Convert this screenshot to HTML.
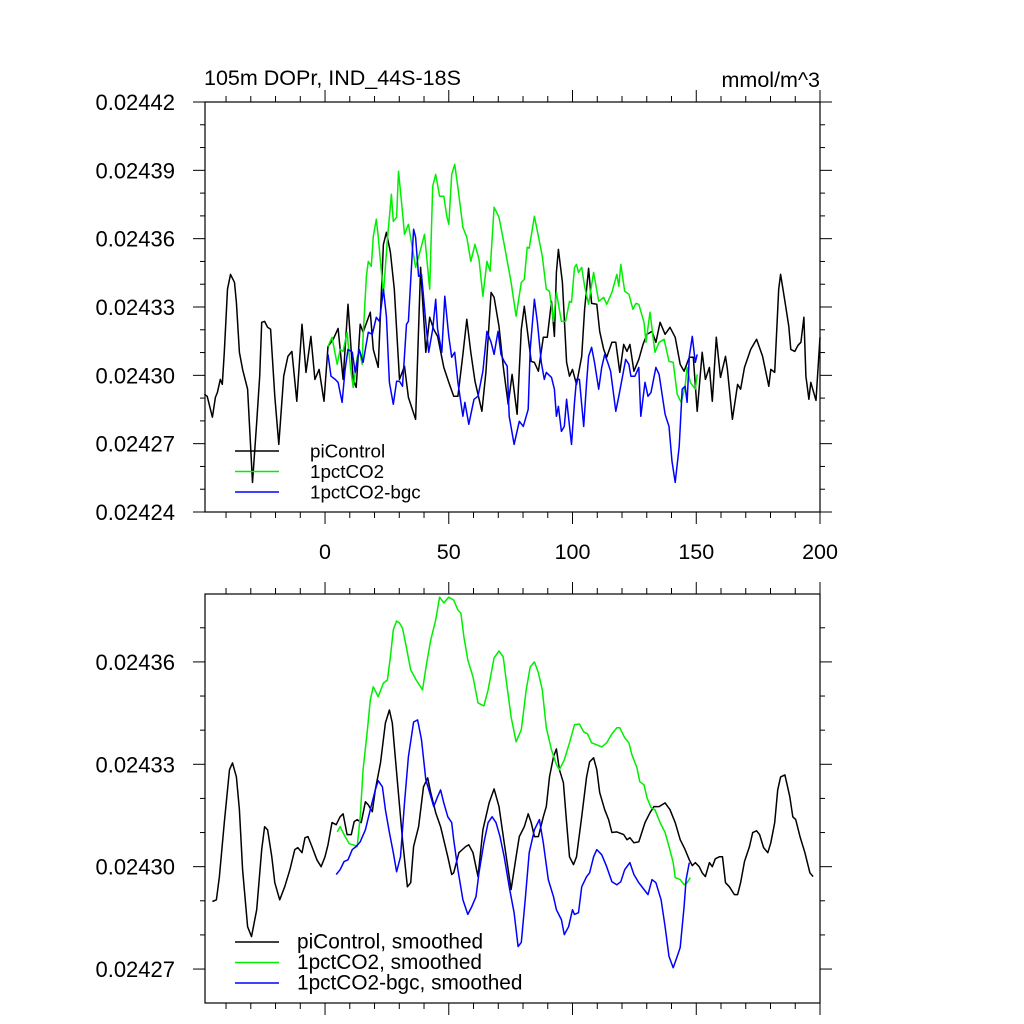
<!DOCTYPE html>
<html><head><meta charset="utf-8"><title>105m DOPr, IND_44S-18S</title>
<style>
html,body{margin:0;padding:0;background:#fff;}
svg{display:block;font-family:"Liberation Sans",Arial,sans-serif;}
</style></head>
<body>
<svg id="chart" width="1024" height="1024" viewBox="0 0 1024 1024">
<rect x="0" y="0" width="1024" height="1024" fill="#fff"/>
<text x="204" y="85" font-size="21.5">105m DOPr, IND_44S-18S</text>
<text x="820" y="87" font-size="21.5" text-anchor="end">mmol/m^3</text>
<g id="top"></g>
<g id="bot"></g>
</svg>
<script>
// ---- data (values = BASE + anomaly * UNIT, mmol/m^3) ----
const BASE = 0.0243, UNIT = 1e-5;
const piYears = [-48.8,-47.6,-45.5,-44.3,-43.5,-42.3,-41.5,-40.7,-39.4,-38.2,-36.6,-35.8,-34.6,-33.3,-31.3,-29.3,-27.6,-26.4,-25.6,-24.4,-23.2,-22.0,-20.3,-18.7,-16.7,-15.0,-13.4,-11.4,-9.3,-7.7,-5.7,-4.1,-2.4,-0.4,1.2,3.3,5.3,7.3,9.3,11.4,12.6,14.2,15.4,18.3,19.5,21.5,23.6,24.8,26.4,28.0,30.1,32.1,33.7,36.6,38.6,40.7,42.3,43.9,45.5,48.0,50.0,52.0,53.7,55.7,57.3,58.9,60.6,63.4,65.0,67.1,68.3,70.3,72.0,74.0,75.6,77.6,79.3,80.5,83.3,84.6,86.2,88.2,89.8,91.5,92.7,93.5,94.3,95.9,97.6,98.8,100.0,101.6,103.7,104.9,106.5,107.7,109.8,111.0,112.6,113.8,115.9,117.5,119.1,120.7,122.0,123.2,124.8,126.8,128.5,130.1,132.1,133.7,135.4,137.4,139.4,141.5,143.5,145.1,147.2,148.8,150.4,152.4,153.7,155.3,156.5,158.1,159.8,161.8,162.6,164.6,166.7,167.9,169.5,172.0,174.4,176.8,179.3,180.1,181.7,183.3,184.1,185.8,187.4,188.2,189.8,191.1,192.3,193.5,194.3,195.5,196.3,198.4,200.0];
const piAnom = [-0.83,-0.92,-1.84,-0.97,-0.75,-0.18,-0.40,1.01,3.78,4.43,4.08,3.20,1.01,0.26,-0.61,-4.70,-2.06,-0.04,2.33,2.37,2.11,2.02,-0.92,-3.03,-0.04,0.83,1.05,-1.14,2.24,0.13,1.71,-0.18,0.26,-1.14,1.27,1.58,2.06,-0.18,3.12,-0.18,-0.53,2.24,1.89,2.77,1.14,0.35,5.75,6.28,5.40,3.78,-0.18,0.40,-0.97,-1.93,4.74,1.01,2.55,2.02,1.71,0.35,-0.31,-0.92,-0.92,0.92,2.46,1.01,-0.26,-1.58,0.13,3.64,3.42,2.15,0.40,-1.27,0.04,-1.71,2.02,3.03,0.61,0.57,0.18,1.67,1.67,3.25,1.71,4.52,5.53,4.08,0.57,-0.04,0.26,-0.40,0.83,2.90,4.70,3.16,3.12,1.93,1.14,0.79,1.45,1.45,0.13,1.36,1.05,1.36,0.18,0.70,1.36,1.80,1.93,1.45,2.33,1.80,2.11,1.67,0.48,0.18,0.79,0.79,-1.58,1.01,-0.18,0.35,-1.14,1.67,-0.09,0.83,0.26,-1.93,-0.40,-0.61,0.35,1.14,1.58,0.83,-0.48,0.26,0.13,3.78,4.43,3.25,2.15,1.14,1.05,1.32,1.45,2.55,-0.04,-1.05,-0.31,-1.10,1.67];
const co2Years = [1.2,2.8,4.9,6.1,7.3,8.9,10.2,11.4,13.0,13.8,15.0,15.4,16.7,17.5,18.7,19.5,20.7,21.5,23.6,25.2,26.8,27.6,28.9,29.7,31.3,32.1,33.7,35.4,36.6,38.6,40.2,42.3,43.5,44.7,46.3,48.0,49.2,50.0,51.2,52.4,53.7,55.7,57.3,58.9,60.6,62.2,63.8,65.4,66.7,68.3,70.3,72.4,75.2,77.2,79.3,80.5,81.7,82.5,84.6,86.2,87.8,89.4,90.7,92.3,93.5,95.5,97.2,98.8,99.6,100.8,101.6,102.4,103.7,104.9,106.5,108.5,110.6,112.6,113.8,115.9,117.9,118.7,119.5,121.1,122.8,124.4,125.6,126.8,128.9,129.7,131.3,133.3,135.0,137.0,139.0,140.7,142.3,143.9,145.5,146.3,147.6,149.6,150.4];
const co2Anom = [1.27,1.67,0.48,1.14,1.05,1.89,0.40,-0.53,0.79,1.14,0.48,1.71,4.35,5.00,4.79,6.10,6.85,6.10,3.56,5.97,7.95,6.76,6.94,8.96,7.16,6.19,6.63,5.53,4.74,5.53,6.19,3.78,8.30,8.82,7.86,7.86,6.98,6.63,8.82,9.26,8.25,6.50,6.06,5.00,5.75,5.09,3.47,5.00,4.57,7.38,6.94,5.75,4.08,2.59,4.08,4.21,5.62,5.58,6.98,6.10,5.22,3.78,3.69,2.37,3.64,2.37,2.37,3.25,3.20,4.74,4.87,4.52,4.74,3.91,3.12,4.52,3.25,3.42,3.12,3.64,4.43,3.91,4.87,3.69,3.56,2.90,3.16,3.12,2.33,1.45,2.77,1.01,1.45,1.58,0.61,0.57,-0.83,-1.19,-0.48,0.35,-0.31,-0.61,0.04];
const bgcYears = [1.2,2.4,4.1,5.3,6.9,8.1,9.3,11.0,12.2,13.8,15.4,17.5,19.1,20.7,22.0,23.6,24.8,26.0,27.6,28.9,30.1,31.3,32.9,33.7,35.8,36.6,37.8,39.0,40.7,41.9,43.5,44.7,45.5,47.2,48.4,50.0,51.2,52.4,53.7,55.7,56.5,58.1,60.2,61.8,63.8,65.4,67.1,68.3,69.9,71.1,72.4,73.6,74.4,76.4,78.5,80.1,82.1,82.9,84.6,85.8,87.4,88.6,89.4,91.5,92.7,93.5,94.3,95.5,96.7,97.6,99.6,100.8,101.6,102.8,104.5,105.7,106.5,107.7,108.9,110.6,111.8,113.0,114.2,115.4,117.5,118.7,121.5,122.8,123.6,125.2,126.8,127.6,129.3,130.5,131.7,133.7,135.0,137.4,139.0,140.2,141.5,143.1,144.3,145.5,146.3,147.2,148.4,149.6,150.4];
const bgcAnom = [0.92,-0.04,-0.18,-0.31,-1.19,0.26,1.14,1.01,0.13,1.14,0.57,1.89,1.80,2.55,2.37,3.78,2.59,-0.31,-1.27,-0.26,-0.26,-0.48,2.24,2.37,6.41,6.06,4.35,4.43,2.33,1.01,2.02,3.34,2.02,1.01,3.47,1.71,0.79,1.01,-0.31,-1.80,-1.19,-2.15,-1.05,-0.92,0.18,1.93,1.45,0.92,1.93,0.92,0.61,0.40,-1.80,-3.03,-2.02,-2.24,-1.49,1.14,3.34,2.33,0.57,-0.18,0.13,-0.09,-0.61,-1.80,-1.36,-2.46,-2.24,-1.05,-3.03,-1.19,-0.18,-0.18,-2.24,-0.31,0.83,1.23,0.57,-0.61,0.35,0.92,0.57,0.18,-1.58,-0.92,0.70,0.48,-0.04,-0.04,0.35,-1.80,-0.31,-0.92,-0.75,0.35,0.04,-1.71,-2.24,-3.78,-4.70,-3.12,-0.61,-0.48,-1.19,0.83,1.71,0.57,0.92];
// smoothed series (bottom panel)
const piSmYears = [-45.5,-43.9,-42.7,-40.7,-38.6,-37.4,-35.8,-34.6,-33.3,-31.3,-29.7,-27.6,-25.6,-24.4,-23.2,-21.5,-20.3,-18.3,-16.3,-14.2,-12.2,-11.0,-9.3,-8.1,-6.9,-5.3,-3.3,-1.6,0,1.2,2.8,4.5,6.1,7.3,8.9,10.6,11.8,13.0,14.6,16.3,17.5,19.1,20.3,22.4,24.4,26.0,27.2,29.3,31.3,33.3,34.6,35.8,37.8,39.8,41.5,42.7,44.7,46.7,49.6,51.2,52.0,54.1,56.9,58.1,59.8,61.8,63.8,66.3,68.3,70.3,72.4,75.2,77.2,78.5,80.5,82.1,83.3,84.6,86.2,88.2,89.4,90.7,92.3,93.5,94.7,96.3,97.6,98.8,100.4,101.6,103.7,105.7,106.9,108.5,109.8,111.0,113.0,114.6,115.9,117.9,120.7,122.0,123.2,124.8,126.8,128.0,129.3,131.3,132.9,135.0,137.4,139.4,141.5,143.5,145.5,147.2,148.4,149.6,151.2,152.4,153.7,155.3,156.5,157.7,159.3,160.6,161.8,163.4,165.4,166.7,167.9,169.5,171.5,172.8,174.4,175.6,177.2,178.9,180.1,181.7,182.9,184.1,185.8,187.8,189.0,190.2,191.9,193.9,195.9,197.2];
const piSmAnom = [-1.02,-0.97,-0.29,1.29,2.84,3.04,2.63,1.67,-0.09,-1.76,-2.05,-1.26,0.50,1.17,1.08,0.29,-0.47,-0.97,-0.59,-0.09,0.50,0.56,0.41,0.85,0.88,0.59,0.20,0.00,0.29,0.64,1.29,1.23,1.46,1.55,0.94,0.94,1.32,1.38,1.29,1.90,1.81,1.61,2.25,3.04,4.21,4.59,4.21,2.46,0.79,-0.59,-0.47,0.59,1.17,2.34,2.60,2.17,1.58,1.17,0.29,-0.23,-0.18,0.41,0.59,0.64,0.41,-0.29,1.08,1.87,2.28,1.76,0.70,-0.67,0.29,0.88,1.17,1.55,1.29,0.88,0.88,1.46,1.76,2.63,3.22,3.45,2.84,2.46,1.29,0.29,0.06,0.29,1.46,2.63,3.07,3.19,2.84,2.17,1.67,1.38,1.00,1.02,0.94,0.79,0.85,0.70,0.73,1.00,1.29,1.58,1.76,1.76,1.87,1.67,1.29,0.79,0.50,0.20,0.03,0.12,0.00,-0.18,-0.29,0.12,0.00,0.23,0.29,0.29,-0.47,-0.59,-0.82,-0.82,-0.47,0.15,0.59,1.00,1.05,0.94,0.56,0.41,0.70,1.29,2.25,2.63,2.69,2.05,1.46,1.38,0.88,0.41,-0.18,-0.29];
const co2SmYears = [4.9,6.1,8.1,9.8,11.4,13.0,14.2,15.4,17.1,18.3,19.5,21.5,23.6,25.2,26.4,27.6,28.9,30.1,31.3,32.5,34.6,36.6,39.4,41.1,42.7,44.7,46.3,48.0,50.0,52.0,53.7,54.9,56.1,57.7,59.8,61.8,64.2,65.9,68.3,70.3,72.0,73.2,75.2,77.2,79.3,81.3,82.9,84.6,86.2,87.8,89.4,91.5,93.5,94.7,96.7,98.8,100.8,102.8,104.5,106.1,107.7,109.8,111.8,113.8,115.9,117.9,119.1,121.1,122.8,124.0,126.0,127.2,128.9,130.1,131.7,133.3,135.4,137.4,139.0,140.7,141.5,143.5,145.1,146.3,147.6];
const co2SmAnom = [1.02,1.17,0.88,0.67,0.64,0.59,1.46,2.84,4.01,4.89,5.27,4.98,5.38,5.47,6.15,6.94,7.20,7.14,6.99,6.56,5.77,5.50,5.18,5.97,6.64,7.23,7.90,7.73,7.90,7.81,7.52,7.43,6.73,6.06,5.56,4.80,4.71,5.18,6.12,6.32,6.15,5.47,4.39,3.66,4.01,5.18,5.85,6.00,5.68,5.18,4.07,3.42,2.99,2.84,3.13,3.63,4.16,4.18,3.95,3.89,3.63,3.57,3.51,3.63,3.89,4.07,4.07,3.78,3.63,3.28,2.90,2.49,2.40,2.02,1.73,1.67,1.29,1.00,0.59,0.12,-0.32,-0.38,-0.53,-0.47,-0.32];
const bgcSmYears = [4.5,6.1,7.7,9.3,11.0,12.6,14.2,16.3,18.3,20.3,21.5,23.2,24.4,26.0,27.6,28.9,30.5,32.1,33.7,35.8,37.4,39.0,40.7,42.3,43.9,45.5,46.7,48.0,49.6,51.2,52.0,53.7,55.7,57.7,59.3,61.0,62.2,64.2,65.9,67.5,69.1,70.7,72.4,74.4,76.4,78.0,79.3,80.9,82.5,84.6,86.6,88.2,90.2,92.3,93.5,95.5,96.7,98.4,100.0,100.8,102.4,103.7,105.7,106.9,108.5,109.8,111.8,113.8,115.9,117.9,119.5,121.1,123.2,124.8,126.8,128.9,130.5,132.1,133.7,135.8,137.4,139.0,140.7,142.3,143.5,145.1,145.9,147.2];
const bgcSmAnom = [-0.23,-0.09,0.15,0.20,0.50,0.59,0.73,1.08,1.67,2.25,2.52,2.34,1.67,1.00,0.41,-0.15,0.29,1.87,3.22,4.24,4.30,3.72,2.55,2.17,1.76,2.05,2.25,1.87,1.46,1.29,0.79,-0.09,-0.97,-1.40,-1.17,-0.88,-0.18,0.70,1.29,1.46,1.29,0.88,0.29,-0.59,-1.35,-2.34,-2.22,-0.97,0.41,1.08,1.38,0.70,-0.38,-0.88,-1.26,-1.55,-1.99,-1.76,-1.26,-1.40,-1.35,-0.59,-0.29,-0.18,0.29,0.50,0.35,0.00,-0.44,-0.53,-0.44,-0.09,0.12,-0.23,-0.47,-0.67,-0.82,-0.38,-0.47,-0.97,-1.76,-2.63,-2.96,-2.63,-2.37,-1.17,-0.38,0.12];
const topTickLabels = ["0.02424","0.02427","0.02430","0.02433","0.02436","0.02439","0.02442"];
const botTickLabels = ["0.02427","0.02430","0.02433","0.02436"];
const xTickLabels = ["0","50","100","150","200"];

const NS = "http://www.w3.org/2000/svg";
function mk(tag, attrs, parent){const e=document.createElementNS(NS,tag);for(const k in attrs)e.setAttribute(k,attrs[k]);parent.appendChild(e);return e;}

const X0 = 205, X1 = 820, XMIN = -48.5, XMAX = 200;
function xs(v){return X0 + (v - XMIN) / (XMAX - XMIN) * (X1 - X0);}

function panel(g, y0, y1, vmin, vmax, majorLabels, showX, series, legend, legY, legTextX, legFont, prefix){
  const ys = v => y1 - (v - vmin) / (vmax - vmin) * (y1 - y0);
  const frame = mk('rect',{x:X0,y:y0,width:X1-X0,height:y1-y0,fill:'none',stroke:'#000','stroke-width':1.2},g);
  
  
  for(let t=-40;t<=200;t+=10){
    const major = t%50===0, L = major?12:6, x = xs(t);
    const tb = mk('line',{x1:x,x2:x,y1:y1,y2:y1+L,stroke:'#000','stroke-width':1},g);
    
    
    const tt = mk('line',{x1:x,x2:x,y1:y0,y2:y0-L,stroke:'#000','stroke-width':1},g);
    
    
  }
  if(showX){
    xTickLabels.forEach(s=>{
      const t = mk('text',{x:xs(+s),y:y1+47,'font-size':21.5,'text-anchor':'middle'},g);
      t.textContent = s;
      
      
    });
  }
  const step = 1e-5;
  for(let k=Math.ceil(vmin/step-1e-6);k*step<=vmax+1e-12;k++){
    const v = k*step, y = ys(v);
    const major = Math.abs(Math.round(k) % 3) === 0;
    const L = major?12:5;
    const tl = mk('line',{x1:X0,x2:X0-L,y1:y,y2:y,stroke:'#000','stroke-width':1},g);
    
    
    const tr = mk('line',{x1:X1,x2:X1+L,y1:y,y2:y,stroke:'#000','stroke-width':1},g);
    
    
  }
  majorLabels.forEach(s=>{
    const t = mk('text',{x:175,y:ys(+s)+8,'font-size':22,'text-anchor':'end'},g);
    t.textContent = s;
    
    
  });
  series.forEach(s=>{
    const pts = s.years.map((yr,i)=>xs(yr).toFixed(1)+','+ys(BASE + s.anom[i]*UNIT).toFixed(1)).join(' ');
    const p = mk('polyline',{points:pts,fill:'none',stroke:s.color,'stroke-width':1.5,'stroke-linejoin':'round'},g);
    
    
  });
  legend.forEach((s,i)=>{
    const y = legY + i*20.5;
    const l = mk('line',{x1:235,x2:279,y1:y,y2:y,stroke:s.color,'stroke-width':1.5},g);
    
    
    const t = mk('text',{x:legTextX,y:y+6.5,'font-size':legFont},g);
    t.textContent = s.label;
    
    
  });
}

panel(document.getElementById('top'), 102, 512, 0.02424, 0.02442, topTickLabels, true,
  [{years:piYears,anom:piAnom,color:'#000',name:'picontrol-line'},
   {years:co2Years,anom:co2Anom,color:'#00ee00',name:'1pctco2-line'},
   {years:bgcYears,anom:bgcAnom,color:'#0000ff',name:'1pctco2-bgc-line'}],
  [{color:'#000',label:'piControl'},{color:'#00ee00',label:'1pctCO2'},{color:'#0000ff',label:'1pctCO2-bgc'}],
  451, 310, 18.8, 'top');

panel(document.getElementById('bot'), 594, 1003, 0.02426005, 0.0243799, botTickLabels, false,
  [{years:piSmYears,anom:piSmAnom,color:'#000',name:'picontrol-smoothed-line'},
   {years:co2SmYears,anom:co2SmAnom,color:'#00ee00',name:'1pctco2-smoothed-line'},
   {years:bgcSmYears,anom:bgcSmAnom,color:'#0000ff',name:'1pctco2-bgc-smoothed-line'}],
  [{color:'#000',label:'piControl, smoothed'},{color:'#00ee00',label:'1pctCO2, smoothed'},{color:'#0000ff',label:'1pctCO2-bgc, smoothed'}],
  942, 297, 20.8, 'bottom');
</script>
</body></html>
